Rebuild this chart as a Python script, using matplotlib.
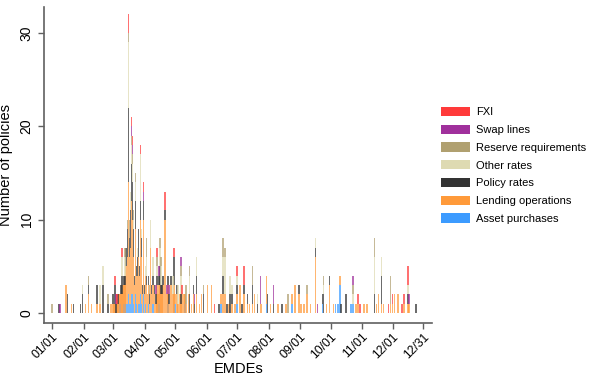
import matplotlib
matplotlib.use("Agg")
import matplotlib.pyplot as plt
from matplotlib.patches import Patch
import numpy as np

plt.rcParams['font.family'] = ['Liberation Sans', 'DejaVu Sans']

# ---- data (day of year 2020, 0 = Jan 1) ----
days = [0, 7, 8, 14, 15, 19, 21, 28, 30, 33, 36, 39, 44, 47, 50, 55, 58,
        60, 61, 62, 63, 64, 65, 66, 67, 68, 69, 70, 71, 72, 73, 74, 75, 76, 77, 78, 79,
        80, 81, 82, 83, 84, 85, 86, 87, 88, 89, 90, 91, 92, 93, 94, 95, 96, 97, 98, 99,
        100, 101, 102, 103, 104, 105, 106, 107, 108, 109, 111, 113, 114, 115, 117, 119,
        120, 121, 123, 124, 126, 127, 128, 130, 131, 132, 134, 135, 137, 139, 140, 142,
        145, 147, 149, 153, 157, 160, 164, 166, 168, 170, 172, 174, 175, 177, 180, 182,
        185, 187, 189, 192, 194, 197, 199, 202, 205, 206, 211, 212, 215, 218, 222, 226,
        230, 232, 236, 239, 243, 245, 248, 251, 254, 259, 261, 266, 267, 270, 273, 277,
        279, 281, 283, 284, 289, 294, 296, 299, 301, 303, 307, 310, 317, 319, 321, 324,
        326, 331, 333, 335, 337, 340, 344, 346, 350, 351, 358]
asset_purchases = [0, 0, 0, 0, 0, 0, 0, 0, 0, 0, 0, 0, 0, 0, 0, 0, 0,
        0, 0, 0, 0, 0, 0, 0, 1, 0, 0, 0, 1, 0, 1, 1, 2, 1, 1, 2, 2,
        1, 0, 2, 1, 0, 1, 1, 2, 1, 0, 2, 0, 1, 0, 0, 1, 0, 0, 0, 1,
        1, 0, 0, 0, 0, 1, 0, 0, 0, 0, 0, 0, 1, 0, 0, 0,
        0, 1, 0, 0, 0, 0, 0, 0, 1, 0, 0, 0, 0, 0, 0, 0,
        0, 0, 0, 0, 0, 0, 0, 1, 0, 0, 0, 0, 0, 0, 0, 1,
        0, 0, 0, 0, 0, 0, 0, 0, 0, 0, 1, 0, 0, 0, 0, 0,
        0, 0, 1, 0, 0, 0, 0, 0, 0, 0, 0, 1, 0, 0, 0, 0,
        1, 1, 3, 0, 0, 1, 1, 0, 0, 0, 0, 0, 0, 0, 0, 0,
        0, 0, 0, 0, 0, 0, 0, 0, 0, 0, 0]
lending_operations = [0, 0, 0, 3, 0, 1, 0, 0, 0, 1, 2, 1, 1, 1, 0, 0, 1,
        1, 1, 1, 0, 1, 1, 2, 1, 2, 2, 3, 2, 3, 4, 5, 12, 5, 6, 10, 8,
        5, 3, 7, 3, 4, 5, 3, 8, 5, 2, 8, 2, 3, 3, 2, 2, 1, 7, 2, 2,
        2, 2, 1, 3, 2, 2, 3, 2, 2, 3, 10, 2, 2, 1, 3, 2,
        3, 1, 2, 1, 2, 1, 2, 2, 1, 1, 2, 0, 1, 2, 0, 2,
        1, 2, 0, 3, 3, 0, 0, 1, 2, 2, 0, 1, 0, 1, 1, 1,
        3, 0, 2, 1, 1, 1, 2, 0, 1, 1, 3, 0, 1, 0, 1, 0,
        1, 0, 1, 3, 2, 1, 1, 2, 1, 6, 0, 0, 0, 1, 3, 1,
        0, 0, 1, 0, 0, 0, 0, 1, 1, 0, 1, 1, 0, 1, 2, 1,
        1, 0, 1, 1, 2, 2, 0, 1, 1, 1, 0]
policy_rates = [0, 1, 0, 0, 2, 0, 1, 1, 2, 0, 1, 0, 2, 0, 3, 1, 0,
        1, 0, 2, 1, 0, 1, 0, 0, 1, 2, 0, 1, 1, 2, 3, 8, 2, 4, 4, 4,
        3, 1, 3, 1, 2, 3, 1, 2, 2, 1, 2, 1, 0, 1, 0, 1, 1, 0, 1, 1,
        1, 1, 1, 1, 0, 1, 2, 1, 1, 1, 1, 0, 1, 1, 1, 0,
        3, 0, 1, 0, 0, 1, 0, 0, 0, 0, 0, 2, 0, 1, 1, 2,
        0, 0, 2, 0, 0, 0, 1, 0, 2, 0, 1, 0, 2, 1, 0, 1,
        0, 1, 1, 1, 0, 2, 0, 1, 0, 0, 0, 2, 0, 1, 0, 1,
        0, 0, 0, 0, 1, 0, 0, 0, 0, 1, 0, 1, 2, 0, 1, 0,
        0, 0, 0, 1, 2, 0, 0, 0, 0, 0, 0, 0, 2, 0, 0, 3,
        0, 0, 0, 0, 0, 0, 0, 0, 1, 0, 1]
other_rates = [0, 0, 0, 0, 0, 0, 0, 0, 1, 0, 0, 0, 0, 2, 2, 0, 0,
        0, 0, 0, 0, 0, 0, 0, 0, 0, 2, 0, 0, 2, 0, 0, 7, 0, 2, 2, 2,
        1, 0, 2, 0, 1, 0, 0, 5, 1, 0, 0, 0, 1, 2, 0, 0, 0, 3, 0, 2,
        2, 0, 0, 1, 0, 0, 2, 2, 0, 0, 0, 0, 0, 0, 0, 2,
        0, 0, 0, 2, 0, 2, 0, 0, 0, 0, 0, 2, 0, 0, 0, 2,
        0, 0, 0, 0, 0, 0, 0, 0, 2, 4, 0, 0, 2, 1, 0, 1,
        0, 0, 0, 0, 0, 0, 0, 1, 0, 0, 0, 0, 0, 0, 0, 0,
        0, 0, 0, 0, 0, 0, 0, 0, 0, 1, 0, 0, 1, 0, 0, 0,
        0, 0, 0, 0, 0, 0, 1, 0, 0, 0, 0, 0, 4, 0, 0, 2,
        0, 0, 0, 0, 0, 0, 0, 0, 1, 0, 0]
reserve_requirements = [1, 0, 0, 0, 0, 0, 0, 0, 0, 0, 1, 0, 0, 0, 0, 1, 0,
        0, 0, 0, 0, 0, 0, 0, 0, 0, 0, 0, 0, 1, 0, 1, 1, 2, 0, 1, 1,
        1, 0, 1, 0, 0, 0, 0, 0, 0, 0, 0, 0, 0, 2, 0, 0, 1, 0, 0, 0,
        0, 0, 0, 1, 0, 0, 1, 1, 0, 0, 0, 0, 0, 0, 0, 0,
        0, 0, 0, 0, 0, 1, 0, 0, 0, 2, 0, 1, 0, 0, 0, 0,
        0, 0, 1, 0, 0, 0, 0, 0, 2, 1, 0, 0, 0, 0, 0, 0,
        0, 0, 0, 0, 0, 2, 0, 0, 0, 0, 0, 0, 0, 0, 0, 0,
        0, 2, 0, 0, 0, 0, 0, 1, 0, 0, 0, 0, 1, 0, 0, 0,
        0, 0, 0, 0, 0, 0, 1, 0, 0, 0, 0, 0, 2, 0, 0, 0,
        0, 0, 3, 0, 0, 0, 0, 0, 0, 0, 0]
swap_lines = [0, 0, 1, 0, 0, 0, 0, 0, 0, 0, 0, 0, 0, 0, 0, 0, 0,
        0, 0, 0, 1, 0, 0, 0, 0, 0, 0, 0, 0, 0, 0, 0, 0, 0, 0, 1, 1,
        0, 0, 0, 0, 0, 0, 0, 0, 0, 0, 1, 0, 0, 0, 0, 0, 0, 0, 0, 0,
        0, 0, 1, 0, 0, 1, 0, 0, 0, 0, 0, 1, 0, 1, 0, 0,
        0, 0, 0, 0, 0, 1, 0, 0, 0, 0, 0, 0, 0, 0, 1, 0,
        0, 0, 0, 0, 0, 0, 0, 0, 0, 0, 0, 0, 0, 0, 0, 0,
        0, 0, 0, 0, 0, 0, 0, 0, 3, 0, 0, 0, 0, 2, 0, 0,
        0, 0, 0, 0, 0, 0, 0, 0, 0, 0, 1, 0, 0, 0, 0, 0,
        0, 0, 0, 0, 0, 0, 1, 0, 0, 0, 0, 0, 0, 0, 0, 0,
        0, 0, 0, 0, 0, 0, 0, 0, 0, 1, 0]
fxi = [0, 0, 0, 0, 0, 0, 0, 0, 0, 0, 0, 0, 0, 0, 0, 0, 0,
        0, 0, 1, 0, 1, 0, 0, 0, 0, 1, 0, 0, 0, 0, 0, 2, 0, 0, 1, 1,
        0, 0, 0, 0, 0, 0, 0, 1, 0, 0, 1, 0, 0, 0, 0, 0, 0, 0, 0, 0,
        0, 0, 0, 1, 0, 0, 0, 0, 0, 0, 2, 0, 0, 0, 0, 0,
        1, 0, 0, 0, 0, 0, 1, 0, 0, 0, 0, 0, 0, 0, 0, 0,
        0, 0, 0, 0, 0, 1, 0, 0, 0, 0, 0, 0, 0, 0, 0, 1,
        0, 0, 2, 0, 0, 0, 0, 0, 0, 0, 0, 0, 0, 0, 0, 0,
        0, 0, 0, 0, 0, 0, 0, 0, 0, 0, 0, 0, 0, 0, 0, 0,
        0, 0, 0, 0, 0, 0, 0, 0, 1, 1, 0, 0, 0, 0, 0, 0,
        0, 1, 0, 1, 0, 0, 1, 1, 2, 0, 0]

series_names = ["Asset purchases", "Lending operations", "Policy rates", "Other rates",
                "Reserve requirements", "Swap lines", "FXI"]
series_values = [asset_purchases, lending_operations, policy_rates, other_rates,
                 reserve_requirements, swap_lines, fxi]
series_colors = ["#3c9bff", "#ff9a3a", "#333333", "#dedab2", "#b0a070", "#a0309c", "#ff3a3a"]

tick_days = [0, 31, 60, 91, 121, 152, 182, 213, 244, 274, 305, 335, 365]
tick_labels = ["01/01", "02/01", "03/01", "04/01", "05/01", "06/01", "07/01",
               "08/01", "09/01", "10/01", "11/01", "12/01", "12/31"]

fig = plt.figure(figsize=(5.92, 3.75), dpi=100)
ax = fig.add_axes([0.0743, 0.140, 0.656, 0.842])

x = np.array(days)
bottom = np.zeros(len(days))
for name, vals, col in zip(series_names, series_values, series_colors):
    v = np.array(vals, dtype=float)
    ax.bar(x, v, bottom=bottom, width=1.5, color=col, alpha=0.72,
           edgecolor='none', linewidth=0)
    bottom += v

ax.set_xlim(-7.9, 374)
ax.set_ylim(-1.0, 32.8)
ax.set_xticks(tick_days)
ax.set_xticklabels(tick_labels, rotation=45, ha='right', rotation_mode='anchor', fontsize=8.8)
ax.set_yticks([0, 10, 20, 30])
ax.set_yticklabels(["0", "10", "20", "30"], rotation=90, va='center', fontsize=10)
for s in ['top', 'right']:
    ax.spines[s].set_visible(False)
for s in ['left', 'bottom']:
    ax.spines[s].set_color('#606060')
    ax.spines[s].set_linewidth(1.2)
ax.tick_params(axis='both', colors='#606060', length=4, width=1.0, labelcolor='black')
ax.tick_params(axis='x', pad=2)
ax.set_xlabel("EMDEs", fontsize=10.5, labelpad=1)
ax.set_ylabel("Number of policies", fontsize=10.5, labelpad=5)

handles = [Patch(facecolor=c, edgecolor='none', label=n)
           for n, c in zip(series_names[::-1], series_colors[::-1])]
fig.legend(handles=handles, loc='upper left', bbox_to_anchor=(0.737, 0.727),
           frameon=False, fontsize=8, handlelength=2.6, handleheight=0.9,
           labelspacing=0.66, handletextpad=0.55, borderaxespad=0)

fig.savefig("out.png", dpi=100)
